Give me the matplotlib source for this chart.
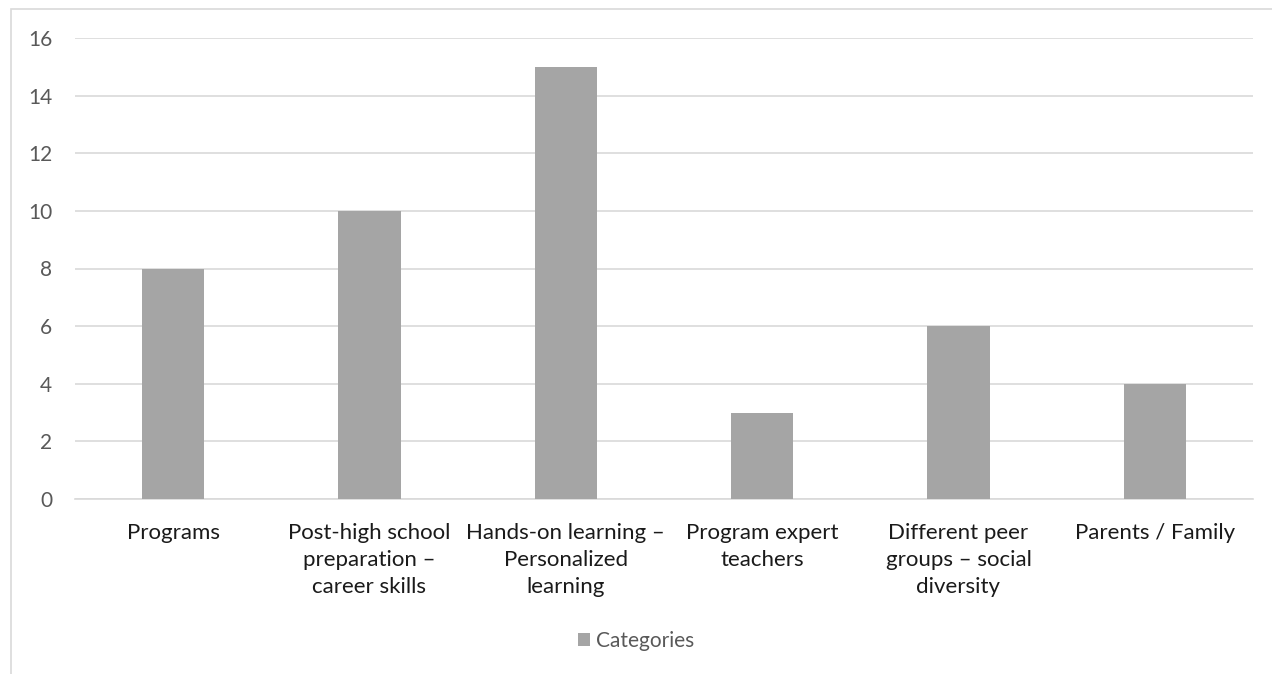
import matplotlib.pyplot as plt
from matplotlib.patches import Rectangle

# Survey tallies per category
categories = [
    "Programs",
    "Post-high school\npreparation –\ncareer skills",
    "Hands-on learning –\nPersonalized\nlearning",
    "Program expert\nteachers",
    "Different peer\ngroups – social\ndiversity",
    "Parents / Family",
]
counts = [8, 10, 15, 3, 6, 4]
yticks = [0, 2, 4, 6, 8, 10, 12, 14, 16]

plt.rcParams['font.family'] = ['Lato', 'DejaVu Sans']

W, H = 1272, 674
fig = plt.figure(figsize=(W / 100, H / 100), dpi=100)

# chart frame (runs off the right and bottom edges)
fig.patches.append(Rectangle((11 / W, -0.1), 2.0, 1 - 9 / H + 0.1,
                             transform=fig.transFigure, fill=False,
                             edgecolor='#d9d9d9', linewidth=1.2))

# plot area in pixel coords
x0, x1 = 75, 1253
y_top, y_bot = 38, 499
ax = fig.add_axes([x0 / W, 1 - y_bot / H, (x1 - x0) / W, (y_bot - y_top) / H])

x = range(len(categories))
ax.bar(x, counts, width=0.316, color='#a5a5a5', zorder=3, label='Categories')

ax.set_xlim(-0.5, len(categories) - 0.5)
ax.set_ylim(0, 16)
ax.set_yticks(yticks)
ax.set_yticklabels([str(v) for v in yticks])
ax.set_xticks(list(x))
ax.set_xticklabels(categories, linespacing=1.42)

ax.grid(axis='y', color='#d9d9d9', linewidth=1.2, zorder=0)
for side in ['top', 'right', 'left']:
    ax.spines[side].set_visible(False)
ax.spines['bottom'].set_color('#d9d9d9')
ax.spines['bottom'].set_linewidth(1.2)

ax.tick_params(axis='y', length=0, pad=16.5, labelsize=15, labelcolor='#595959')
ax.tick_params(axis='x', length=0, pad=17.5, labelsize=16, labelcolor='#1a1a1a')
for lbl in ax.get_xticklabels():
    lbl.set_verticalalignment('top')

leg = fig.legend(loc='center', bbox_to_anchor=(0.5, 1 - 641 / H), frameon=False,
                 fontsize=15, handlelength=0.6, handleheight=0.6,
                 handletextpad=0.3, labelcolor='#595959')

fig.savefig('out.png', dpi=100, facecolor='white')
